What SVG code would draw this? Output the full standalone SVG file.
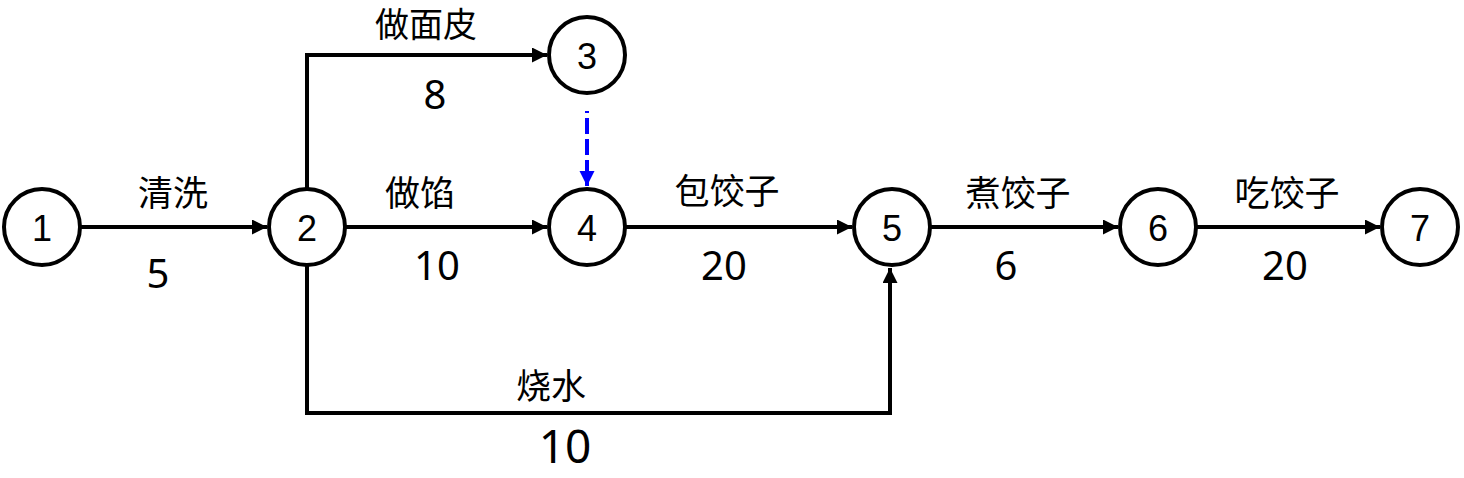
<svg xmlns="http://www.w3.org/2000/svg" width="1464" height="478" viewBox="0 0 1464 478">
<style>
.node circle{fill:#fff;stroke:#000;stroke-width:4}
.node text{font-family:"Liberation Sans","Noto Sans CJK SC",sans-serif;font-size:36px;fill:#000;text-anchor:middle;dominant-baseline:central}
.lbl{font-family:"Noto Sans CJK SC","Noto Sans",sans-serif;font-size:35px;fill:#000;text-anchor:middle;dominant-baseline:central}
.num{font-family:"Noto Sans","Noto Sans CJK SC",sans-serif;font-size:40px;fill:#000;text-anchor:middle;dominant-baseline:central}
.edge{fill:none;stroke:#000;stroke-width:4;marker-end:url(#ah)}
.dummy{fill:none;stroke:#0000ff;stroke-width:4;stroke-dasharray:16 5;stroke-dashoffset:14;marker-end:url(#ahb)}
</style>
<defs>
<marker id="ah" markerUnits="userSpaceOnUse" markerWidth="18" markerHeight="18" refX="15" refY="7.5" orient="auto">
<path d="M0,0 L15,7.5 L0,15 Z" fill="#000"/>
</marker>
<marker id="ahb" markerUnits="userSpaceOnUse" markerWidth="18" markerHeight="18" refX="15" refY="7.5" orient="auto">
<path d="M0,0 L15,7.5 L0,15 Z" fill="#0000ff"/>
</marker>
</defs>
<rect width="1464" height="478" fill="#fff"/>
<g id="connectors">
<path class="edge" d="M80,227 H267"/>
<path class="edge" d="M307,188 V55 H547"/>
<path class="edge" d="M346,227 H547"/>
<path class="edge" d="M626,227 H852"/>
<path class="edge" d="M307,266 V413 H890 V268"/>
<path class="edge" d="M931,227 H1118"/>
<path class="edge" d="M1197,227 H1380"/>
<path class="dummy" d="M587,111 V186"/>
</g>
<g id="labels">
<text class="lbl" x="173" y="190">清洗</text>
<text class="num" x="158" y="272">5</text>
<text class="lbl" x="426" y="22" style="font-size:34px">做面皮</text>
<text class="num" x="435" y="93">8</text>
<text class="lbl" x="420" y="190">做馅</text>
<text class="num" x="437" y="264">10</text>
<text class="lbl" x="727" y="188">包饺子</text>
<text class="num" x="724" y="264">20</text>
<text class="lbl" x="551" y="383">烧水</text>
<text class="num" x="565" y="445" style="font-size:46px">10</text>
<text class="lbl" x="1018" y="190">煮饺子</text>
<text class="num" x="1006" y="264">6</text>
<text class="lbl" x="1287" y="190">吃饺子</text>
<text class="num" x="1285" y="264">20</text>
</g>
<g id="node1" class="node"><circle cx="42" cy="227" r="38"/><text x="42" y="228">1</text></g>
<g id="node2" class="node"><circle cx="307" cy="227" r="38"/><text x="307" y="228">2</text></g>
<g id="node3" class="node"><circle cx="587" cy="55" r="38"/><text x="587" y="56">3</text></g>
<g id="node4" class="node"><circle cx="587" cy="227" r="38"/><text x="587" y="228">4</text></g>
<g id="node5" class="node"><circle cx="892" cy="227" r="38"/><text x="892" y="228">5</text></g>
<g id="node6" class="node"><circle cx="1158" cy="227" r="38"/><text x="1158" y="228">6</text></g>
<g id="node7" class="node"><circle cx="1420" cy="227" r="38"/><text x="1420" y="228">7</text></g>
</svg>
